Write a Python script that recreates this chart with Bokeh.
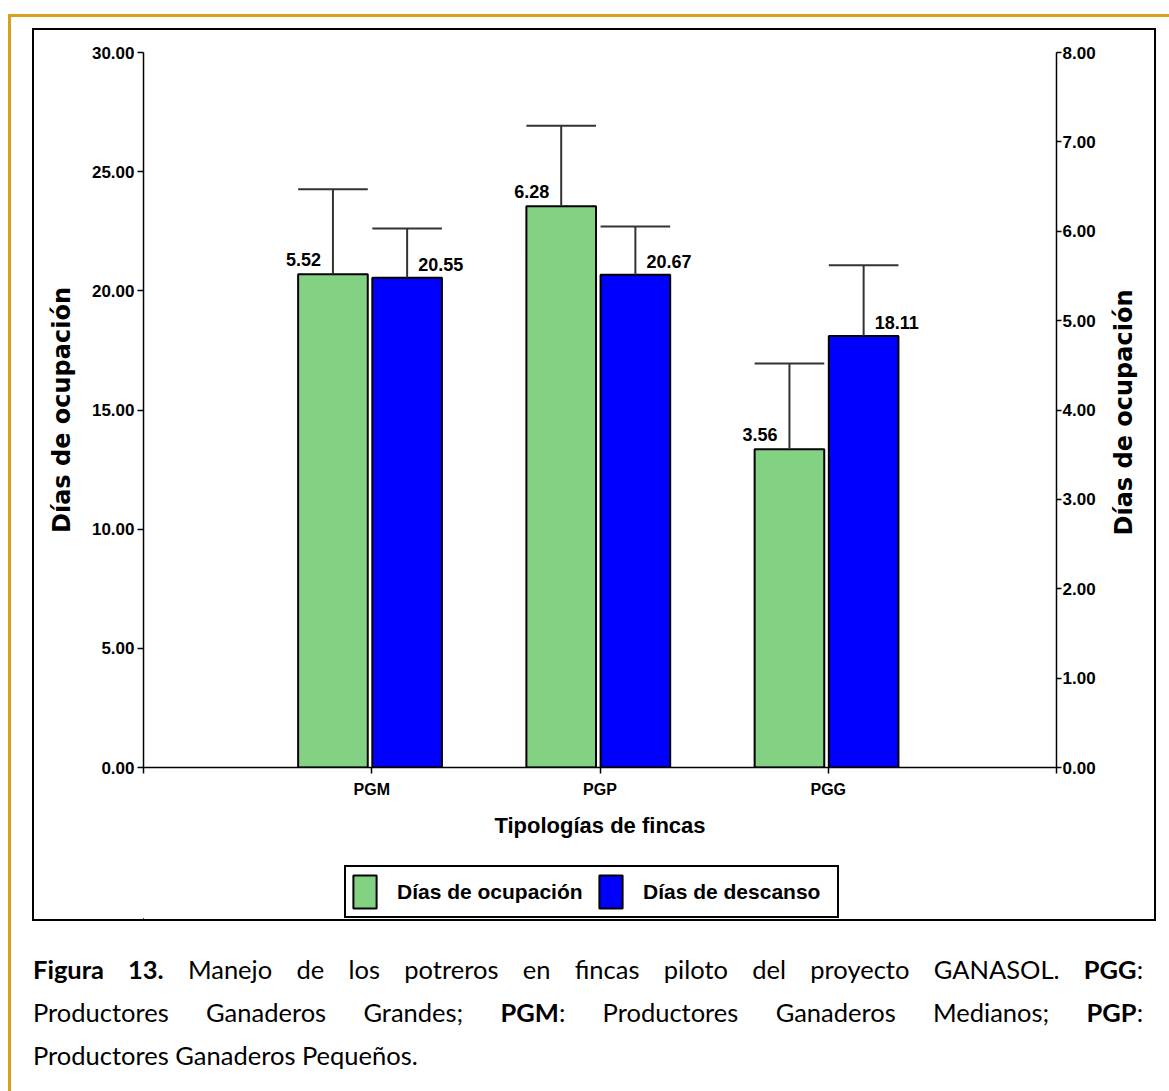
import math
from bokeh.plotting import figure
from bokeh.models import (Range1d, LinearAxis, FixedTicker, PrintfTickFormatter,
                          Legend, LegendItem, Div)
from bokeh.layouts import column
from bokeh.embed import file_html
from bokeh.resources import INLINE
from bokeh.core.properties import value

# ---------------- data ----------------
categories = ["PGM", "PGP", "PGG"]
ocupacion = [5.52, 6.28, 3.56]            # right axis
ocupacion_upper = [6.47, 7.18, 4.52]
descanso = [20.55, 20.67, 18.11]          # left axis
descanso_upper = [22.62, 22.70, 21.07]
left_ticks = [0, 5, 10, 15, 20, 25, 30]
right_ticks = [0, 1, 2, 3, 4, 5, 6, 7, 8]
series_names = ["Días de ocupación", "Días de descanso"]
y_label = "Días de ocupación"
x_label = "Tipologías de fincas"
caption_bold = ["Figura 13.", "PGG", "PGM", "PGP"]

# ---------------- style / layout ----------------
SANS = "Liberation Sans"
GREEN = "#83D183"
BLUE = "#0000FF"
GOLD = "#D6A21E"
BW = 0.305
OFF_G = -0.17
OFF_B = 0.155
Y_TOP_PX, Y_ZERO_PX = 52, 767     # page pixels of the axes top and zero line
RLABEL_BOTTOM_PX = 535            # where the right title starts (reads upward)

R0, R1 = right_ticks[0], right_ticks[-1]

xs = [i + 1 for i in range(len(categories))]
xg = [x + OFF_G for x in xs]
xb = [x + OFF_B for x in xs]

p = figure(width=1120, height=815, x_range=Range1d(0, len(categories) + 1),
           y_range=Range1d(left_ticks[0], left_ticks[-1]),
           output_backend="svg", toolbar_location=None,
           min_border_left=109, min_border_right=97,
           min_border_top=22, min_border_bottom=78)
p.extra_y_ranges = {"right": Range1d(R0, R1)}
p.grid.visible = False
p.outline_line_color = None
p.background_fill_color = "white"
p.border_fill_color = "white"

def style_axis(ax):
    ax.axis_line_color = "black"
    ax.axis_line_width = 1.5
    ax.major_tick_line_color = "black"
    ax.major_tick_line_width = 1.5
    ax.major_tick_in = 0
    ax.major_tick_out = 6
    ax.minor_tick_line_color = None
    ax.major_label_text_font = SANS
    ax.major_label_text_font_style = "bold"
    ax.major_label_text_font_size = "17px"
    ax.major_label_text_color = "black"
    ax.axis_label_text_font = SANS
    ax.axis_label_text_font_style = "bold"
    ax.axis_label_text_color = "black"

# x axis
xa = p.xaxis[0]
style_axis(xa)
xa.ticker = FixedTicker(ticks=[0] + xs + [len(categories) + 1])
overrides = {0: "", len(categories) + 1: ""}
for x, c in zip(xs, categories):
    overrides[x] = c
xa.major_label_overrides = overrides
xa.major_label_text_font_size = "16px"
xa.major_label_standoff = 7
xa.axis_label = x_label
xa.axis_label_text_font_size = "22px"
xa.axis_label_standoff = 12

# left axis
ya = p.yaxis[0]
style_axis(ya)
ya.ticker = FixedTicker(ticks=left_ticks)
ya.formatter = PrintfTickFormatter(format="%.2f")
ya.major_label_standoff = 3
ya.axis_label = y_label
ya.axis_label_text_font = "DejaVu Sans"
ya.axis_label_text_font_size = "24px"
ya.axis_label_standoff = 13

# right axis (ticks)
ra = LinearAxis(y_range_name="right", ticker=FixedTicker(ticks=right_ticks),
                formatter=PrintfTickFormatter(format="%.2f"))
style_axis(ra)
ra.major_tick_out = 5
ra.major_label_standoff = 1
p.add_layout(ra, "right")

# right axis title, reading bottom-to-top: a single rotated label on a bare axis
t_r = R0 + (Y_ZERO_PX - RLABEL_BOTTOM_PX) / (Y_ZERO_PX - Y_TOP_PX) * (R1 - R0)
ra2 = LinearAxis(y_range_name="right", ticker=FixedTicker(ticks=[t_r]),
                 major_label_overrides={t_r: y_label})
ra2.axis_line_color = None
ra2.major_tick_line_color = None
ra2.minor_tick_line_color = None
ra2.major_tick_out = 0
ra2.major_tick_in = 0
ra2.major_label_orientation = math.pi / 2
ra2.major_label_standoff = 25
ra2.major_label_text_font = "DejaVu Sans"
ra2.major_label_text_font_style = "bold"
ra2.major_label_text_font_size = "24px"
ra2.major_label_text_color = "black"
p.add_layout(ra2, "right")

# bars
rg = p.vbar(x=xg, width=BW, top=ocupacion, bottom=0, y_range_name="right",
            fill_color=GREEN, line_color="black", line_width=2)
rb = p.vbar(x=xb, width=BW, top=descanso, bottom=0,
            fill_color=BLUE, line_color="black", line_width=2)

# error bars
EC = "#333333"
p.segment(x0=xg, x1=xg, y0=ocupacion, y1=ocupacion_upper, y_range_name="right",
          line_color=EC, line_width=2)
p.segment(x0=[x - BW / 2 for x in xg], x1=[x + BW / 2 for x in xg],
          y0=ocupacion_upper, y1=ocupacion_upper, y_range_name="right",
          line_color=EC, line_width=2)
p.segment(x0=xb, x1=xb, y0=descanso, y1=descanso_upper,
          line_color=EC, line_width=2)
p.segment(x0=[x - BW / 2 for x in xb], x1=[x + BW / 2 for x in xb],
          y0=descanso_upper, y1=descanso_upper, line_color=EC, line_width=2)

# value labels
p.text(x=xg, y=ocupacion, text=["%.2f" % v for v in ocupacion], y_range_name="right",
       text_align="right", text_baseline="bottom", x_offset=-12, y_offset=-8,
       text_font=value(SANS), text_font_style="bold", text_font_size="18px",
       text_color="black")
p.text(x=xb, y=descanso, text=["%.2f" % v for v in descanso],
       text_align="left", text_baseline="bottom", x_offset=11, y_offset=-7,
       text_font=value(SANS), text_font_style="bold", text_font_size="18px",
       text_color="black")

# legend strip (own small canvas under the chart; its bars lie far outside its view)
lg = figure(width=1120, height=74, x_range=Range1d(100, 101), y_range=Range1d(500, 501),
            x_axis_location=None, y_axis_location=None, min_border=0,
            output_backend="svg", toolbar_location=None)
lg.grid.visible = False
lg.outline_line_color = None
lg.background_fill_color = "white"
lg.border_fill_color = "white"
g_leg = lg.vbar(x=xg, top=ocupacion, bottom=0, width=BW, fill_color=GREEN,
                line_color="black", line_width=2)
b_leg = lg.vbar(x=xb, top=descanso, bottom=0, width=BW, fill_color=BLUE,
                line_color="black", line_width=2)
legend = Legend(items=[LegendItem(label=series_names[0], renderers=[g_leg]),
                       LegendItem(label=series_names[1], renderers=[b_leg])],
                orientation="horizontal", location=(201, 1))
legend.border_line_color = "black"
legend.border_line_width = 2
legend.border_line_alpha = 1
legend.glyph_width = 29
legend.glyph_height = 41
legend.label_text_font = SANS
legend.label_text_font_style = "bold"
legend.label_text_font_size = "21px"
legend.label_text_color = "black"
legend.label_width = 190
legend.padding = 4
legend.spacing = 9
legend.label_standoff = 18
legend.margin = 0
legend.background_fill_alpha = 1
lg.add_layout(legend)

box = column(p, lg, margin=(11, 0, 0, 21), styles={"border": "2px solid black"})

cap_html = (
    '<div style="font-family: Lato; font-size: 25.5px; line-height: 43px; color: #000; width: 1110px;">'
    '<div style="text-align: justify; text-align-last: justify;"><b>%s</b> Manejo de los potreros en fincas piloto del proyecto GANASOL. <b>%s</b>:</div>'
    '<div style="text-align: justify; text-align-last: justify;">Productores Ganaderos Grandes; <b>%s</b>: Productores Ganaderos Medianos; <b>%s</b>:</div>'
    '<div>Productores Ganaderos Pequeños.</div></div>'
) % tuple(caption_bold)
cap = Div(text=cap_html, width=1112, height=135, margin=(27, 0, 0, 22))

root = column(box, cap, width=1161, height=1077, margin=(14, 0, 0, 8),
              styles={"border-top": "3px solid " + GOLD, "border-left": "3px solid " + GOLD})

open("out.html", "w").write(file_html(root, INLINE))
